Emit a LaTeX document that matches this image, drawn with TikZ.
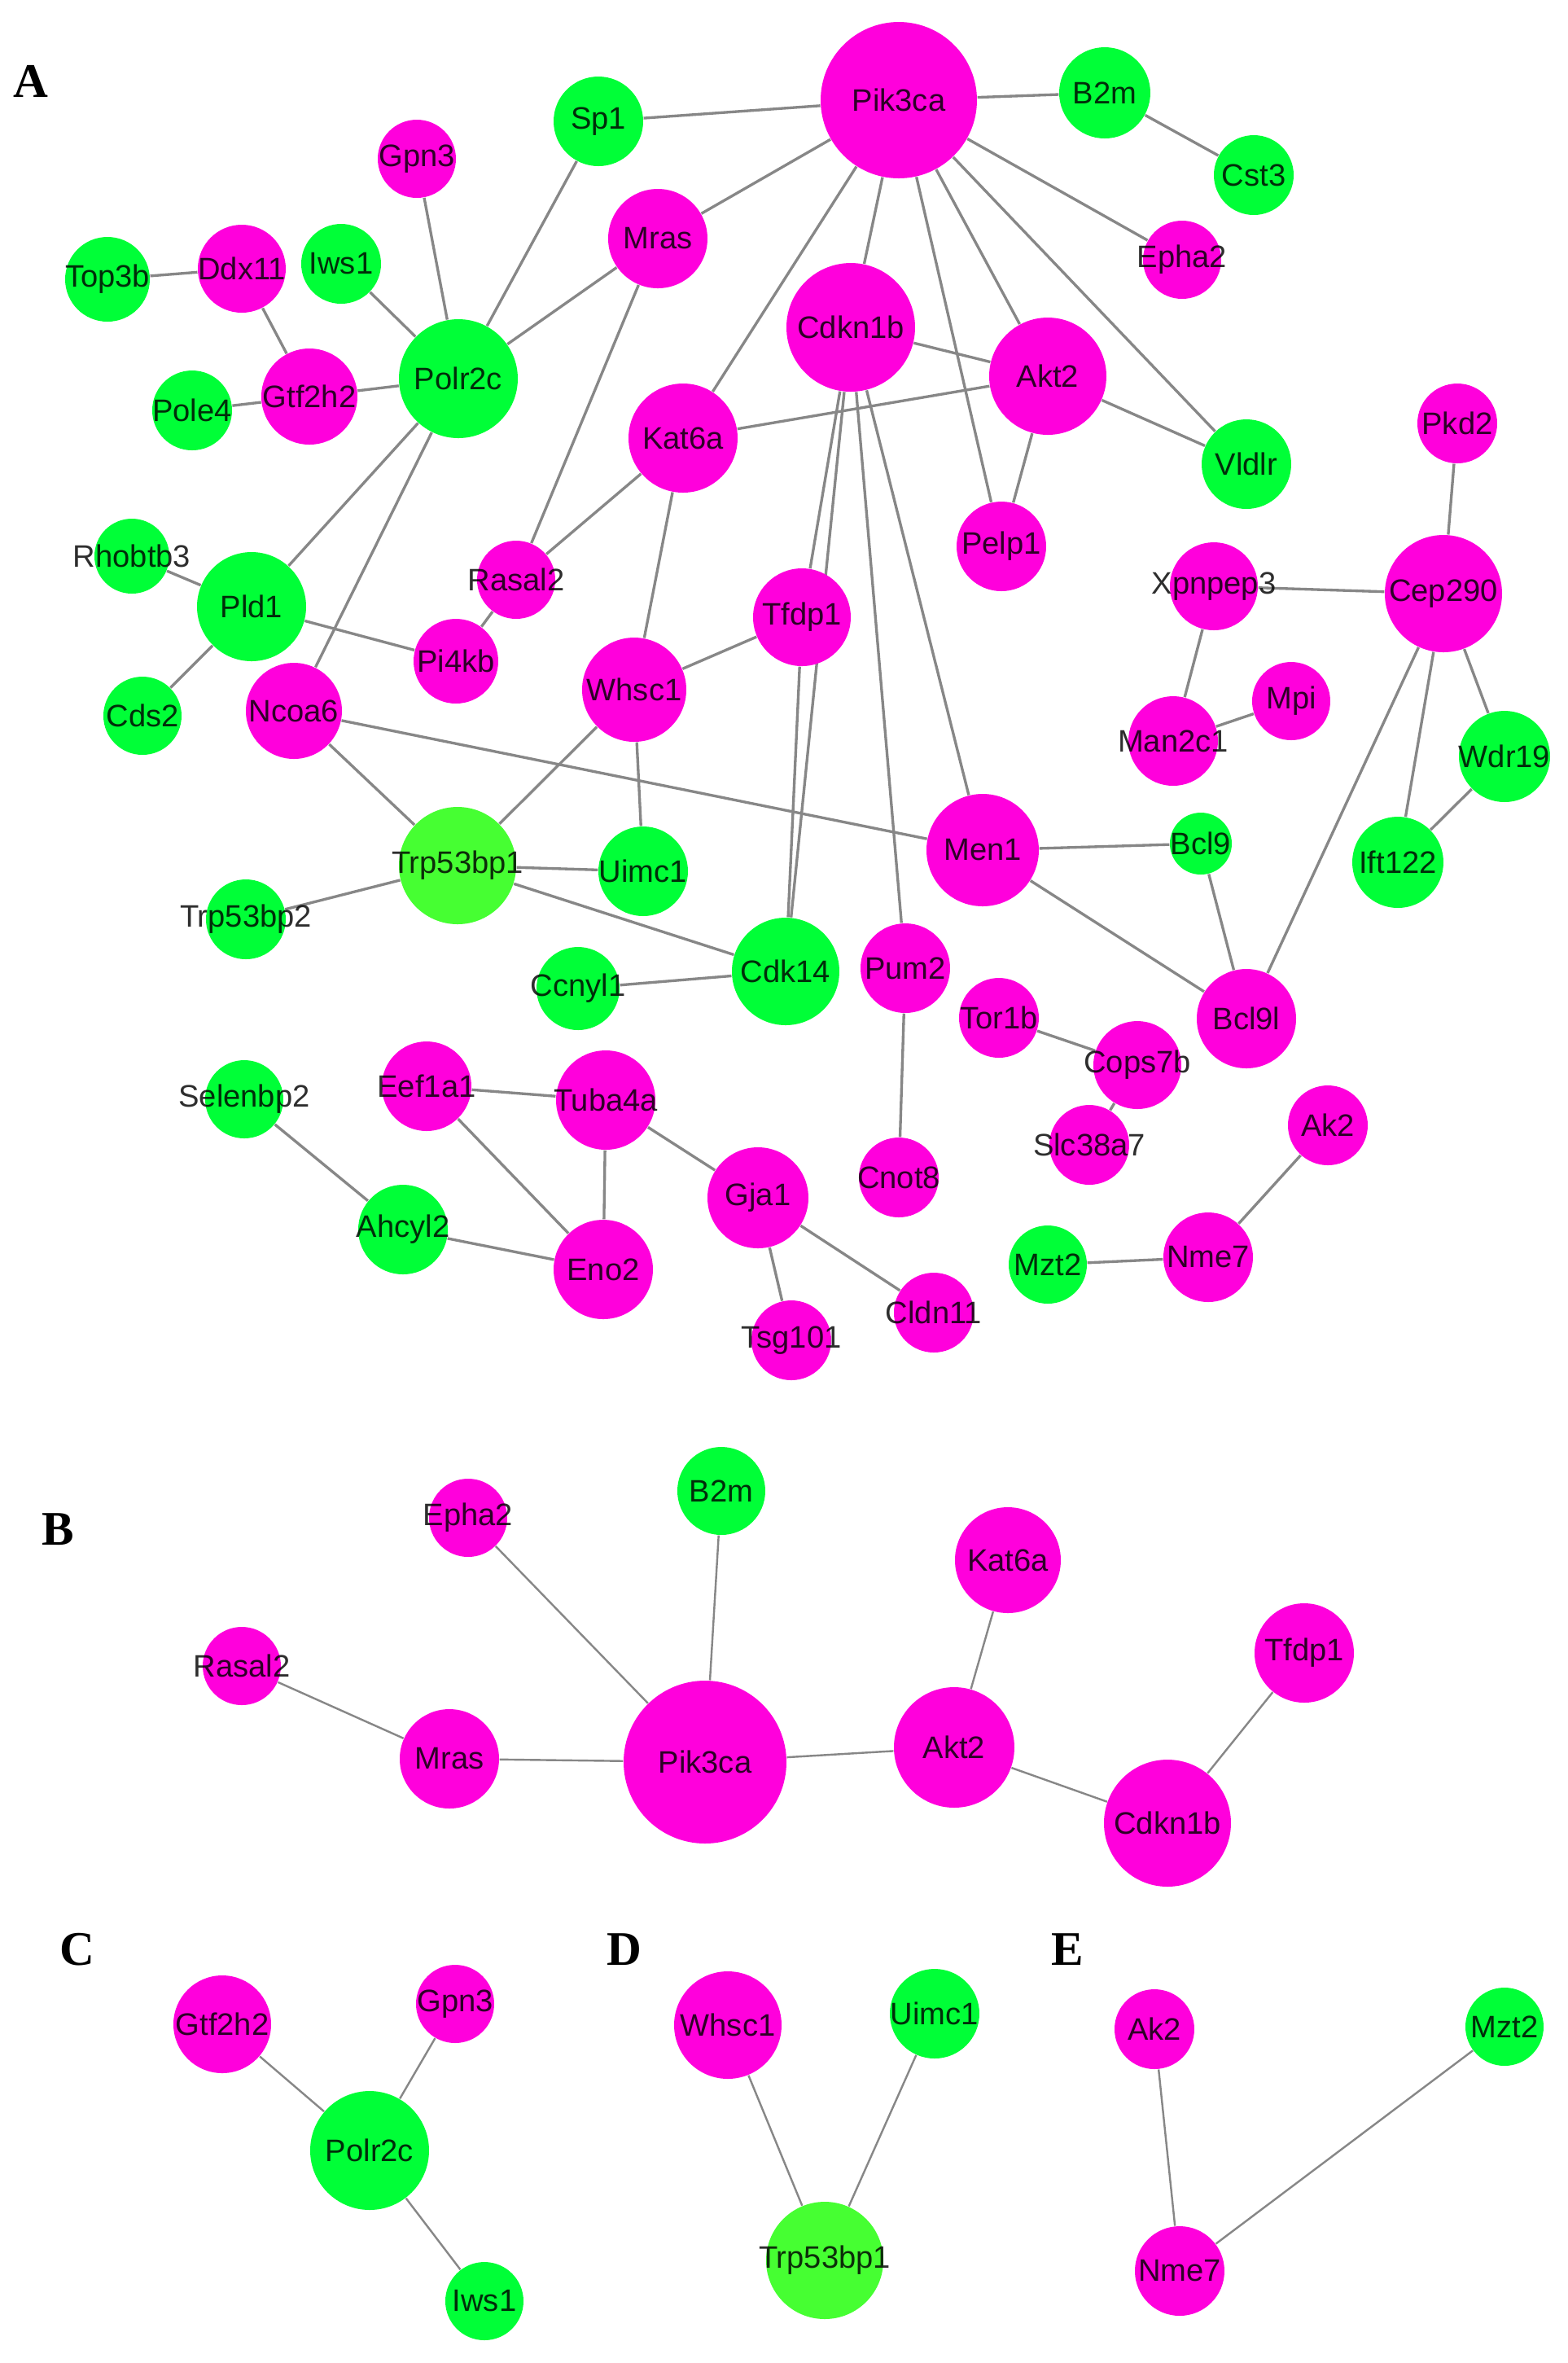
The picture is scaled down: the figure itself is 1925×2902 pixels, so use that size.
\documentclass[tikz,border=0pt]{standalone}
\usepackage{fontspec}
\setmainfont{Liberation Sans}
\newfontfamily\panelfont{Liberation Serif}
\usetikzlibrary{backgrounds}
\definecolor{mag}{RGB}{255,0,220}
\definecolor{grn}{RGB}{0,255,55}
\definecolor{grnl}{RGB}{70,255,50}
\definecolor{edgec}{RGB}{135,135,135}
\newcommand\lbl[1]{\makebox[0pt]{#1}}
\begin{document}
\begin{tikzpicture}[x=0.27pt,y=-0.27pt,
  nd/.style={circle, inner sep=0pt, draw=none, minimum size=#1*0.54pt,
    font=\fontsize{10.3}{12}\selectfont, text=black, text opacity=0.82},
  mnode/.style={nd=#1, fill=mag},
  gnode/.style={nd=#1, fill=grn},
  lgnode/.style={nd=#1, fill=grnl},
  lnk/.style={draw=edgec, line width=0.9pt},
  lnkt/.style={draw=edgec, line width=0.65pt},
  panel/.style={font=\panelfont\bfseries\fontsize{16}{18}\selectfont, inner sep=0pt}]
\useasboundingbox (0,0) rectangle (1925,2902);

% ---------------- Panel A ----------------
\node[panel] (labA) at (38,100) {A};
\node[mnode=96] (APik3ca) at (1104,123) {\lbl{Pik3ca}};
\node[gnode=56] (AB2m) at (1357,114) {\lbl{B2m}};
\node[gnode=49] (ACst3) at (1540,215) {\lbl{Cst3}};
\node[mnode=48] (AEpha2) at (1452,319) {\lbl{Epha2}};
\node[gnode=55] (ASp1) at (735,149) {\lbl{Sp1}};
\node[mnode=48] (AGpn3) at (512,195) {\lbl{Gpn3}};
\node[mnode=61] (AMras) at (808,293) {\lbl{Mras}};
\node[gnode=52] (ATop3b) at (132,343) {\lbl{Top3b}};
\node[mnode=54] (ADdx11) at (297,330) {\lbl{Ddx11}};
\node[gnode=49] (AIws1) at (419,324) {\lbl{Iws1}};
\node[gnode=73] (APolr2c) at (563,465) {\lbl{Polr2c}};
\node[mnode=59] (AGtf2h2) at (380,487) {\lbl{Gtf2h2}};
\node[gnode=49] (APole4) at (236,504) {\lbl{Pole4}};
\node[mnode=67] (AKat6a) at (839,538) {\lbl{Kat6a}};
\node[mnode=79] (ACdkn1b) at (1045,402) {\lbl{Cdkn1b}};
\node[mnode=72] (AAkt2) at (1287,462) {\lbl{Akt2}};
\node[gnode=55] (AVldlr) at (1531,570) {\lbl{Vldlr}};
\node[mnode=49] (APkd2) at (1790,520) {\lbl{Pkd2}};
\node[gnode=46] (ARhobtb3) at (162,683) {\lbl{Rhobtb3}};
\node[gnode=67] (APld1) at (309,745) {\lbl{Pld1}};
\node[mnode=48] (ARasal2) at (634,712) {\lbl{Rasal2}};
\node[mnode=52] (APi4kb) at (560,812) {\lbl{Pi4kb}};
\node[mnode=55] (APelp1) at (1230,671) {\lbl{Pelp1}};
\node[mnode=54] (AXpnpep3) at (1491,720) {\lbl{Xpnpep3}};
\node[mnode=72] (ACep290) at (1773,729) {\lbl{Cep290}};
\node[mnode=60] (ATfdp1) at (985,758) {\lbl{Tfdp1}};
\node[mnode=64] (AWhsc1) at (779,847) {\lbl{Whsc1}};
\node[mnode=59] (ANcoa6) at (361,873) {\lbl{Ncoa6}};
\node[gnode=48] (ACds2) at (175,879) {\lbl{Cds2}};
\node[mnode=48] (AMpi) at (1586,861) {\lbl{Mpi}};
\node[mnode=55] (AMan2c1) at (1441,910) {\lbl{Man2c1}};
\node[gnode=56] (AWdr19) at (1848,929) {\lbl{Wdr19}};
\node[mnode=69] (AMen1) at (1207,1044) {\lbl{Men1}};
\node[gnode=38] (ABcl9) at (1475,1036) {\lbl{Bcl9}};
\node[gnode=56] (AIft122) at (1717,1059) {\lbl{Ift122}};
\node[lgnode=72] (ATrp53bp1) at (562,1063) {\lbl{Trp53bp1}};
\node[gnode=55] (AUimc1) at (790,1070) {\lbl{Uimc1}};
\node[gnode=49] (ATrp53bp2) at (302,1129) {\lbl{Trp53bp2}};
\node[gnode=51] (ACcnyl1) at (710,1214) {\lbl{Ccnyl1}};
\node[gnode=66] (ACdk14) at (965,1193) {\lbl{Cdk14}};
\node[mnode=55] (APum2) at (1112,1189) {\lbl{Pum2}};
\node[mnode=49] (ATor1b) at (1227,1250) {\lbl{Tor1b}};
\node[mnode=61] (ABcl9l) at (1531,1251) {\lbl{Bcl9l}};
\node[mnode=54] (ACops7b) at (1397,1308) {\lbl{Cops7b}};
\node[gnode=48] (ASelenbp2) at (300,1350) {\lbl{Selenbp2}};
\node[mnode=55] (AEef1a1) at (524,1334) {\lbl{Eef1a1}};
\node[mnode=61] (ATuba4a) at (744,1351) {\lbl{Tuba4a}};
\node[mnode=49] (AAk2) at (1631,1382) {\lbl{Ak2}};
\node[mnode=49] (ASlc38a7) at (1338,1406) {\lbl{Slc38a7}};
\node[mnode=49] (ACnot8) at (1104,1446) {\lbl{Cnot8}};
\node[mnode=62] (AGja1) at (931,1471) {\lbl{Gja1}};
\node[gnode=55] (AAhcyl2) at (495,1510) {\lbl{Ahcyl2}};
\node[mnode=61] (AEno2) at (741,1559) {\lbl{Eno2}};
\node[gnode=48] (AMzt2) at (1287,1553) {\lbl{Mzt2}};
\node[mnode=55] (ANme7) at (1484,1544) {\lbl{Nme7}};
\node[mnode=49] (ACldn11) at (1147,1612) {\lbl{Cldn11}};
\node[mnode=49] (ATsg101) at (972,1646) {\lbl{Tsg101}};

% ---------------- Panel B ----------------
\node[panel] (labB) at (71,1878) {B};
\node[gnode=54] (BB2m) at (886,1831) {\lbl{B2m}};
\node[mnode=48] (BEpha2) at (575,1864) {\lbl{Epha2}};
\node[mnode=65] (BKat6a) at (1238,1916) {\lbl{Kat6a}};
\node[mnode=61] (BTfdp1) at (1602,2030) {\lbl{Tfdp1}};
\node[mnode=48] (BRasal2) at (297,2046) {\lbl{Rasal2}};
\node[mnode=61] (BMras) at (552,2160) {\lbl{Mras}};
\node[mnode=100] (BPik3ca) at (866,2164) {\lbl{Pik3ca}};
\node[mnode=74] (BAkt2) at (1172,2146) {\lbl{Akt2}};
\node[mnode=78] (BCdkn1b) at (1434,2239) {\lbl{Cdkn1b}};

% ---------------- Panels C, D, E ----------------
\node[panel] (labC) at (95,2394) {C};
\node[panel] (labD) at (767,2394) {D};
\node[panel] (labE) at (1311,2394) {E};
\node[mnode=60] (CGtf2h2) at (273,2486) {\lbl{Gtf2h2}};
\node[mnode=48] (CGpn3) at (559,2461) {\lbl{Gpn3}};
\node[gnode=73] (CPolr2c) at (454,2641) {\lbl{Polr2c}};
\node[gnode=48] (CIws1) at (595,2826) {\lbl{Iws1}};
\node[mnode=66] (DWhsc1) at (894,2487) {\lbl{Whsc1}};
\node[gnode=55] (DUimc1) at (1148,2473) {\lbl{Uimc1}};
\node[lgnode=72] (DTrp53bp1) at (1013,2776) {\lbl{Trp53bp1}};
\node[mnode=49] (EAk2) at (1418,2492) {\lbl{Ak2}};
\node[gnode=48] (EMzt2) at (1848,2489) {\lbl{Mzt2}};
\node[mnode=55] (ENme7) at (1449,2789) {\lbl{Nme7}};

\begin{scope}[on background layer]
\fill[white] (0,0) rectangle (1925,2902);
\end{scope}
\begin{scope}[on background layer, every path/.style={lnk}]
\draw (APik3ca) -- (ASp1);
\draw (APik3ca) -- (AB2m);
\draw (AB2m) -- (ACst3);
\draw (APik3ca) -- (AEpha2);
\draw (APik3ca) -- (AMras);
\draw (APik3ca) -- (AKat6a);
\draw (APik3ca) -- (ACdkn1b);
\draw (APik3ca) -- (AAkt2);
\draw (APik3ca) -- (APelp1);
\draw (APik3ca) -- (AVldlr);
\draw (ACdkn1b) -- (AAkt2);
\draw (AKat6a) -- (AAkt2);
\draw (AAkt2) -- (APelp1);
\draw (AAkt2) -- (AVldlr);
\draw (ACdkn1b) -- (ATfdp1);
\draw (ACdkn1b) -- (ACdk14);
\draw (ATfdp1) -- (ACdk14);
\draw (ACdkn1b) -- (APum2);
\draw (ACdkn1b) -- (AMen1);
\draw (AKat6a) -- (ARasal2);
\draw (AKat6a) -- (AWhsc1);
\draw (AMras) -- (ARasal2);
\draw (AMras) -- (APolr2c);
\draw (ASp1) -- (APolr2c);
\draw (AGpn3) -- (APolr2c);
\draw (AIws1) -- (APolr2c);
\draw (AGtf2h2) -- (APolr2c);
\draw (AGtf2h2) -- (ADdx11);
\draw (AGtf2h2) -- (APole4);
\draw (ADdx11) -- (ATop3b);
\draw (APolr2c) -- (APld1);
\draw (APolr2c) -- (ANcoa6);
\draw (APld1) -- (ARhobtb3);
\draw (APld1) -- (ACds2);
\draw (APld1) -- (APi4kb);
\draw (ARasal2) -- (APi4kb);
\draw (AWhsc1) -- (ATfdp1);
\draw (AWhsc1) -- (AUimc1);
\draw (AWhsc1) -- (ATrp53bp1);
\draw (ANcoa6) -- (ATrp53bp1);
\draw (ANcoa6) -- (AMen1);
\draw (ATrp53bp1) -- (AUimc1);
\draw (ATrp53bp1) -- (ATrp53bp2);
\draw (ATrp53bp1) -- (ACdk14);
\draw (ACcnyl1) -- (ACdk14);
\draw (AMen1) -- (ABcl9);
\draw (AMen1) -- (ABcl9l);
\draw (ABcl9) -- (ABcl9l);
\draw (ACep290) -- (ABcl9l);
\draw (ACep290) -- (AIft122);
\draw (ACep290) -- (AWdr19);
\draw (AWdr19) -- (AIft122);
\draw (ACep290) -- (APkd2);
\draw (ACep290) -- (AXpnpep3);
\draw (AXpnpep3) -- (AMan2c1);
\draw (AMan2c1) -- (AMpi);
\draw (APum2) -- (ACnot8);
\draw (ATor1b) -- (ACops7b);
\draw (ACops7b) -- (ASlc38a7);
\draw (AAk2) -- (ANme7);
\draw (AMzt2) -- (ANme7);
\draw (ASelenbp2) -- (AAhcyl2);
\draw (AAhcyl2) -- (AEno2);
\draw (AEef1a1) -- (AEno2);
\draw (AEef1a1) -- (ATuba4a);
\draw (ATuba4a) -- (AEno2);
\draw (ATuba4a) -- (AGja1);
\draw (AGja1) -- (ATsg101);
\draw (AGja1) -- (ACldn11);
\end{scope}
\begin{scope}[on background layer, every path/.style={lnkt}]
\draw (BEpha2) -- (BPik3ca);
\draw (BB2m) -- (BPik3ca);
\draw (BRasal2) -- (BMras);
\draw (BMras) -- (BPik3ca);
\draw (BPik3ca) -- (BAkt2);
\draw (BAkt2) -- (BKat6a);
\draw (BAkt2) -- (BCdkn1b);
\draw (BCdkn1b) -- (BTfdp1);
\draw (CGtf2h2) -- (CPolr2c);
\draw (CGpn3) -- (CPolr2c);
\draw (CPolr2c) -- (CIws1);
\draw (DWhsc1) -- (DTrp53bp1);
\draw (DUimc1) -- (DTrp53bp1);
\draw (EAk2) -- (ENme7);
\draw (EMzt2) -- (ENme7);
\end{scope}
\end{tikzpicture}
\end{document}
